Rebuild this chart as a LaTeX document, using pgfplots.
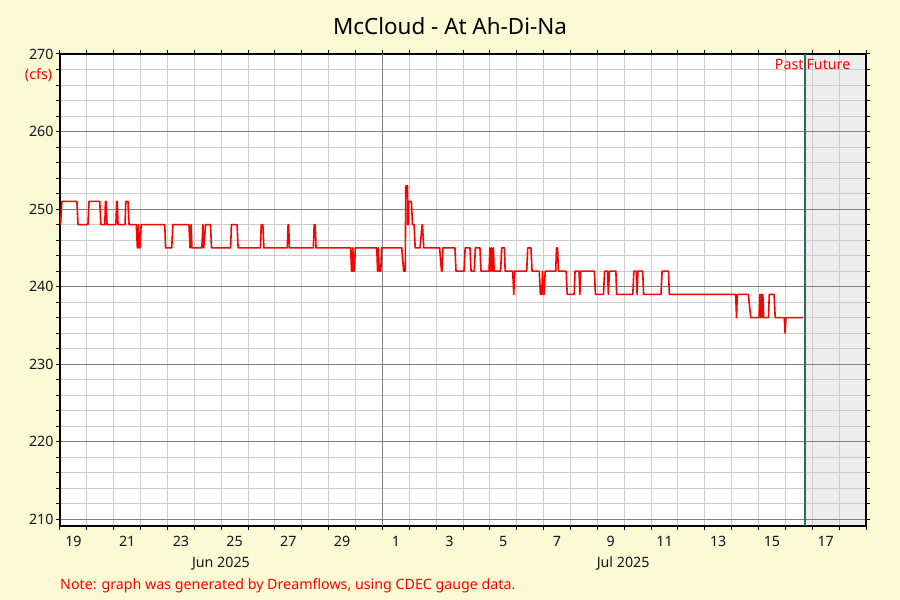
\documentclass[border=0pt]{standalone}
\usepackage{fontspec}
\setmainfont{Noto Sans}
\usepackage{pgfplots}
\pgfplotsset{compat=1.18}
\usetikzlibrary{calc}
\definecolor{pagebg}{RGB}{250,250,212}
\definecolor{futuregray}{RGB}{238,238,238}
\definecolor{minorgrid}{RGB}{204,204,204}
\definecolor{majorgrid}{RGB}{128,128,128}
\definecolor{nowline}{RGB}{46,110,94}
\definecolor{flowred}{RGB}{255,0,0}
\definecolor{ticktext}{RGB}{20,20,30}
\newcommand{\smallfont}{\fontsize{14.3}{17}\selectfont}
\begin{document}
\begin{tikzpicture}
\path[use as bounding box, fill=pagebg] (0bp,0bp) rectangle (900bp,600bp);
\begin{axis}[
  at={(60bp,74bp)}, anchor=south west,
  scale only axis, width=806bp, height=472bp,
  xmin=0, xmax=30, ymin=209.14, ymax=270,
  clip=false,
  axis background/.style={fill=white, path picture={
     \fill[futuregray] ($(path picture bounding box.south west)!0.9243!(path picture bounding box.south east)$) rectangle (path picture bounding box.north east);}},
  axis line style={black, line width=1.2bp},
  tick align=outside,
  major tick length=4bp, minor tick length=4bp,
  every tick/.style={black, line width=1bp},
  xtick={0.5,2.5,...,28.5},
  xticklabels={19,21,23,25,27,29,1,3,5,7,9,11,13,15,17},
  major x tick style={draw=none},
  minor xtick={0,1,...,30},
  xminorgrids=true,
  ytick={210,220,...,270},
  minor ytick={210,212,...,270},
  ymajorgrids=true, yminorgrids=true,
  minor grid style={minorgrid, line width=1bp},
  major grid style={majorgrid, line width=1bp},
  /pgf/number format/assume math mode=true,
  ticklabel style={font=\smallfont, text=ticktext},
  xticklabel style={yshift=-2.5bp},
  yticklabel style={/pgf/number format/fixed, xshift=1bp},
]
\addplot[majorgrid, line width=1bp] coordinates {(12,209.14) (12,270)};
\addplot[flowred, line width=1.6bp, line join=round] coordinates {
(0.02,248)(0.07,251)(0.63,251)(0.67,248)(1.04,248)(1.08,251)(1.48,251)(1.52,248)
(1.67,248)(1.69,251)(1.72,251)(1.75,248)(2.08,248)(2.11,251)(2.13,251)(2.16,248)
(2.42,248)(2.45,251)(2.53,251)(2.57,248)(2.84,248)(2.88,245)(2.90,245)(2.92,248)
(2.95,245)(2.98,245)(3.02,248)(3.90,248)(3.93,245)(4.16,245)(4.20,248)(4.80,248)
(4.84,245)(4.88,248)(4.91,245)(5.28,245)(5.32,248)(5.35,245)(5.42,248)(5.60,248)
(5.64,245)(6.35,245)(6.38,248)(6.59,248)(6.63,245)(7.46,245)(7.49,248)(7.55,248)
(7.59,245)(8.46,245)(8.49,248)(8.51,248)(8.54,245)(9.43,245)(9.46,248)(9.50,248)
(9.53,245)(10.82,245)(10.85,242)(10.88,242)(10.90,245)(10.92,242)(10.96,242)(10.99,245)
(11.79,245)(11.82,242)(11.85,245)(11.88,242)(11.94,242)(11.97,245)(12.72,245)(12.79,242)
(12.85,242)(12.87,253)(12.94,253)(12.94,248)(12.97,248)(12.98,251)(13.08,251)(13.12,248)
(13.18,248)(13.22,245)(13.40,245)(13.48,248)(13.49,248)(13.54,245)(14.13,245)(14.20,242)
(14.22,242)(14.25,245)(14.70,245)(14.74,242)(15.04,242)(15.08,245)(15.26,245)(15.30,242)
(15.42,242)(15.46,245)(15.63,245)(15.67,242)(15.97,242)(16.00,245)(16.03,242)(16.06,245)
(16.10,242)(16.13,245)(16.16,242)(16.40,242)(16.44,245)(16.54,245)(16.57,242)(16.85,242)
(16.89,239)(16.92,242)(17.37,242)(17.41,245)(17.53,245)(17.57,242)(17.84,242)(17.88,239)
(17.93,239)(17.96,242)(17.99,239)(18.02,239)(18.06,242)(18.45,242)(18.48,245)(18.52,245)
(18.55,242)(18.84,242)(18.88,239)(19.14,239)(19.17,242)(19.32,242)(19.35,239)(19.38,242)
(19.41,242)(19.89,242)(19.93,239)(20.23,239)(20.27,242)(20.38,242)(20.41,239)(20.45,242)
(20.69,242)(20.72,239)(21.32,239)(21.36,242)(21.45,242)(21.48,239)(21.51,242)(21.69,242)
(21.72,239)(22.37,239)(22.41,242)(22.65,242)(22.68,239)(25.15,239)(25.18,236)(25.21,239)
(25.62,239)(25.71,236)(26.02,236)(26.05,239)(26.07,236)(26.10,239)(26.13,236)(26.16,239)
(26.19,236)(26.37,236)(26.40,239)(26.58,239)(26.62,236)(26.96,236)(26.99,234)(27.02,236)
(27.67,236)
};
\addplot[nowline, line width=2bp] coordinates {(27.73,209.14) (27.73,270)};
\node[anchor=base east, text=flowred, font=\smallfont, inner sep=0pt] at (axis cs:27.68,268.03) {Past};
\node[anchor=base west, text=flowred, font=\smallfont, inner sep=0pt] at (axis cs:27.78,268.03) {Future};
\node[anchor=base east, text=flowred, font=\smallfont, inner sep=0pt, xshift=-7.7bp] at (axis cs:0,266.65) {(cfs)};
\node[anchor=base, text=ticktext, font=\smallfont, inner sep=0pt] at (axis cs:5.99,203.85) {Jun 2025};
\node[anchor=base, text=ticktext, font=\smallfont, inner sep=0pt] at (axis cs:20.96,203.85) {Jul 2025};
\end{axis}
\node[anchor=base, font=\fontsize{22.5}{26}\selectfont, inner sep=0pt] at (450bp,565bp) {McCloud - At Ah-Di-Na};
\node[anchor=base west, text=flowred, font=\smallfont, inner sep=0pt] at (60bp,11bp) {Note: graph was generated by Dreamflows, using CDEC gauge data.};
\end{tikzpicture}
\end{document}
